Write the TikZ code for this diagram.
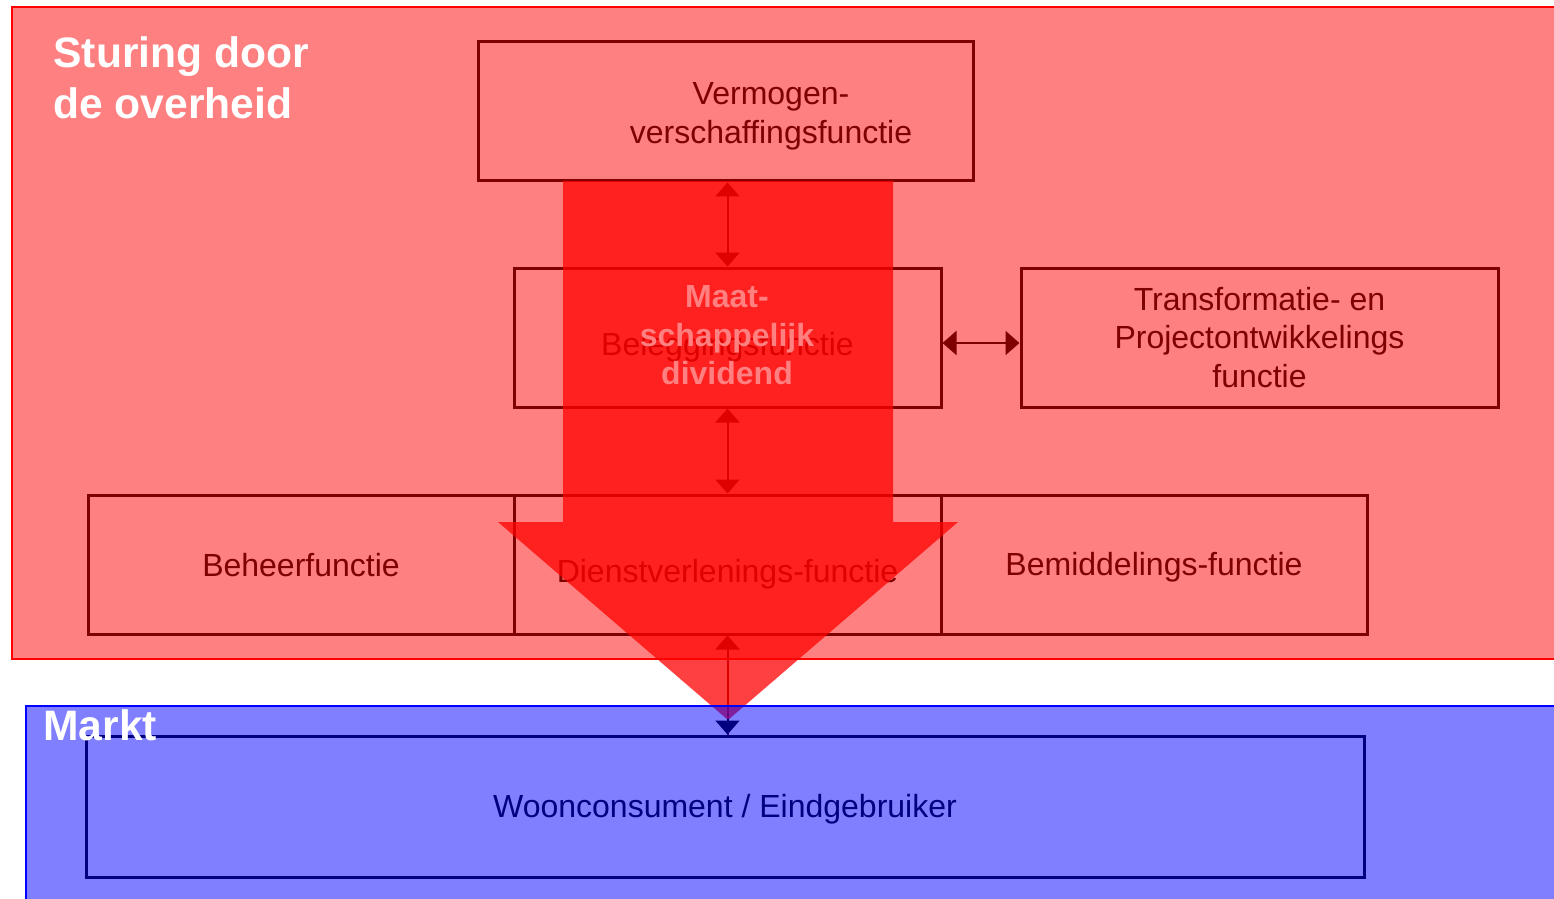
\documentclass[tikz,border=0pt]{standalone}
\usepackage{fontspec}
\setmainfont{Liberation Sans}
\usetikzlibrary{arrows.meta,calc}
\definecolor{dred}{HTML}{800000}
\definecolor{pinkbg}{HTML}{FF8080}
\definecolor{dnavy}{HTML}{000080}
\begin{document}
\begin{tikzpicture}[x=0.5pt,y=-0.5pt,
  fbox/.style={draw=dred, line width=1.5pt, inner sep=0pt, minimum height=69.5pt,
    text=dred, font=\fontsize{16}{19.25}\selectfont, align=center},
  boxtext/.style={text=dred, font=\fontsize{16}{19.25}\selectfont, align=center, inner sep=0pt},
  oneline/.style={text height=15.5pt, text depth=4pt},
  conn/.style={draw=dred, line width=1pt, {Triangle[width=12pt,length=7pt]}-{Triangle[width=12pt,length=7pt]}},
  connstart/.style={draw=dred, line width=1pt, {Triangle[width=12pt,length=7pt]}-},
  headline/.style={text=white, font=\fontsize{21.3}{25.5}\selectfont\bfseries, inner sep=0pt, align=left}]
\useasboundingbox (0,0) rectangle (1554,899);
% government area
\fill[pinkbg] (12,7) rectangle (1570,659);
\draw[red, line width=0.75pt] (1570,7) -- (12,7) -- (12,659) -- (1570,659);
\node[headline, anchor=north west] (sturing) at (53,36) {Sturing door\\de overheid};
% function boxes
\node[fbox, minimum width=247.5pt,
  label={[boxtext, xshift=22.75pt, yshift=-2.5pt]center:{Vermogen-\\verschaffingsfunctie}}] (verm) at (725.5,111.5) {};
\node[fbox, minimum width=213.5pt,
  label={[boxtext, oneline, yshift=-3pt]center:{Beleggingsfunctie}}] (belegg) at (727.5,337.5) {};
\node[fbox, minimum width=238.5pt] (trans) at (1259.5,337.5) {Transformatie- en\\Projectontwikkelings\\functie};
\node[fbox, minimum width=213pt,
  label={[boxtext, oneline]center:{Beheerfunctie}}] (beheer) at (301,564.5) {};
\node[fbox, minimum width=213.5pt,
  label={[boxtext, oneline, yshift=-3pt]center:{Dienstverlenings-functie}}] (dienst) at (727.5,564.5) {};
\node[fbox, minimum width=213pt,
  label={[boxtext, oneline, yshift=0.25pt]center:{Bemiddelings-functie}}] (bemid) at (1154,564.5) {};
% connectors
\draw[conn] (belegg.north |- verm.south) -- (belegg.north);
\draw[conn] (belegg.south) -- (dienst.north);
\draw[conn] ($(belegg.east)+(0,5.5)$) -- ($(trans.west)+(0,5.5)$);
\draw[connstart] (dienst.south) -- (dienst.south |- 0,736);
% big arrow
\fill[red, fill opacity=0.75] (563,181) -- (893,181) -- (893,522) -- (958,522) -- (728,720)
  -- (498,522) -- (563,522) -- cycle;
\node[text=pinkbg, font=\fontsize{16}{19.25}\selectfont\bfseries, align=center, inner sep=0pt]
  (dividend) at (727,335.5) {Maat-\\schappelijk\\dividend};
% market area
\fill[blue, fill opacity=0.5] (26,706) rectangle (1570,910);
\draw[blue, line width=0.75pt] (1570,706) -- (26,706) -- (26,910);
\node[draw=dnavy, line width=1.5pt, inner sep=0pt, minimum width=639pt, minimum height=70.5pt,
  label={[text=dnavy, font=\fontsize{16}{19.25}\selectfont, inner sep=0pt, oneline, yshift=0.5pt]center:{Wooncons\-ument / Eindgebruiker}}] (woon) at (725,806.5) {};
\draw[dnavy, line width=1pt, -{Triangle[width=12pt,length=7pt]}] ($(dienst.south |- woon.north)+(0,-16)$) -- (dienst.south |- woon.north);
\node[text=white, font=\fontsize{21.3}{26}\selectfont\bfseries, inner sep=0pt, anchor=base west] (markt) at (43,740) {Markt};
\end{tikzpicture}
\end{document}
